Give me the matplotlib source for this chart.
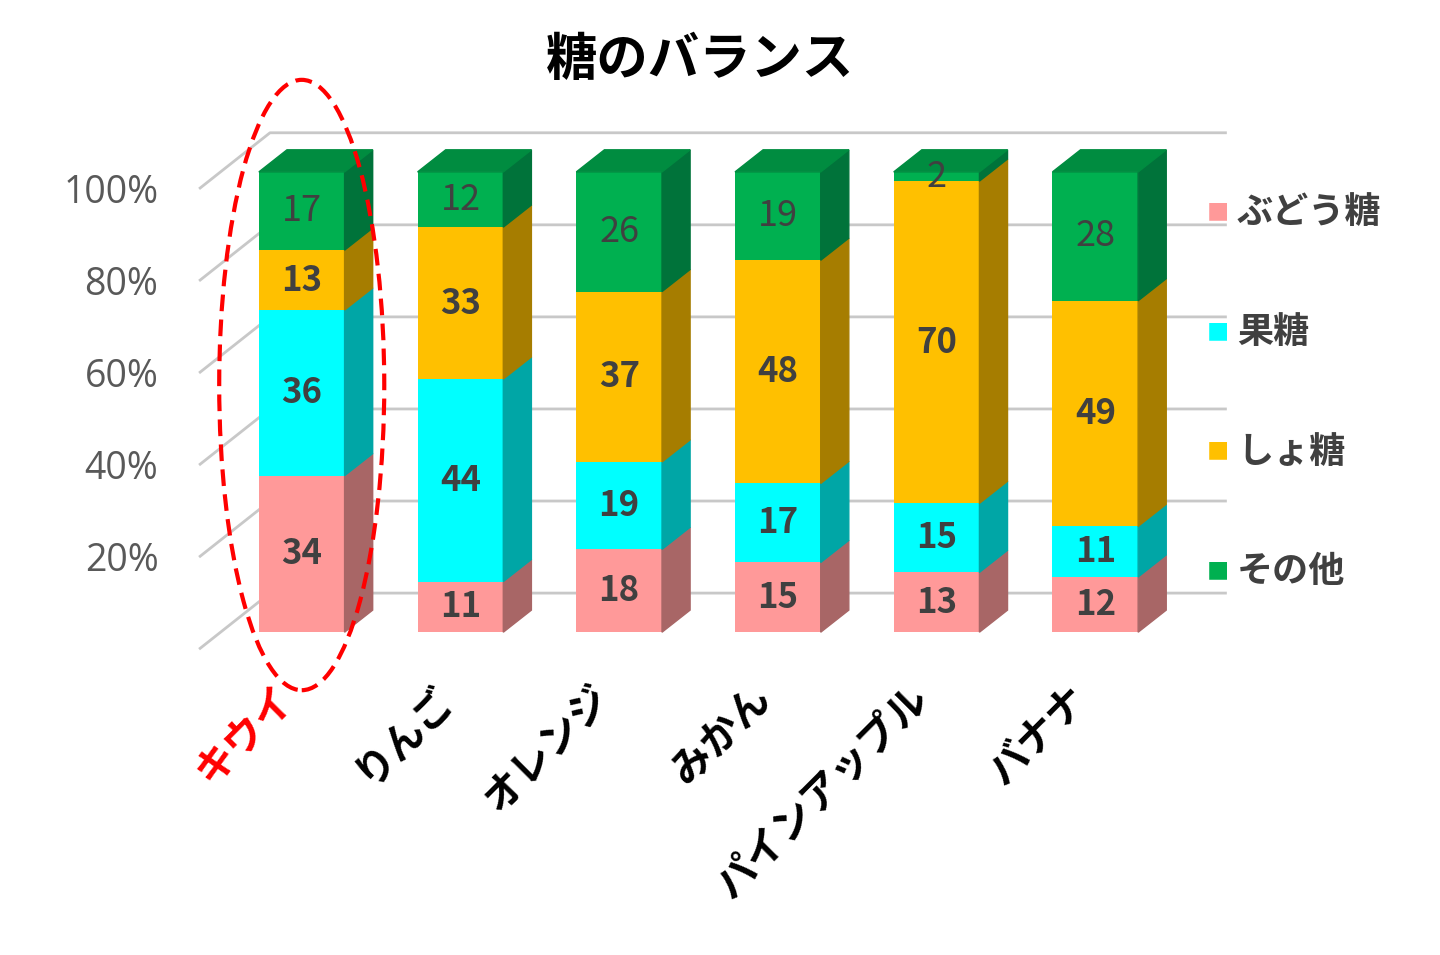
import matplotlib.pyplot as plt
from matplotlib.patches import Polygon, Ellipse

plt.rcParams['font.family'] = ['Noto Sans CJK JP', 'DejaVu Sans']

# data
fruits = ['キウイ', 'りんご', 'オレンジ', 'みかん', 'パインアップル', 'バナナ']
series = ['ぶどう糖', '果糖', 'しょ糖', 'その他']
budou = [34, 11, 18, 15, 13, 12]
katou = [36, 44, 19, 17, 15, 11]
shotou = [13, 33, 37, 48, 70, 49]
sonota = [17, 12, 26, 19, 2, 28]
yticks = [0, 20, 40, 60, 80, 100]

front = ['#FF9999', '#00FFFF', '#FFC000', '#00B050']
side = ['#A86666', '#00A6A6', '#A67D00', '#00733A']
top_green = '#008C40'

fig = plt.figure(figsize=(14.4, 9.55), dpi=100)
ax = fig.add_axes([0.139, 0.338, 0.712, 0.482])
for s in ax.spines.values():
    s.set_visible(False)

# back wall grid lines
fdx, fdy, off = 0.44, 12, -3.5
for v in yticks:
    ax.plot([-0.64, -0.64 + fdx, 5.82], [v + off, v + off + fdy, v + off + fdy],
            color='#C8C8C8', lw=2, clip_on=False, zorder=0)
ax.set_yticks([v + off for v in yticks])
ax.set_yticklabels([f'{v}%' for v in yticks], fontsize=27, color='#595959',
                   family=['Open Sans', 'DejaVu Sans'])
ax.tick_params(axis='y', length=0, pad=30)
ax.set_xticks([])

w, dx, dy = 0.54, 0.177, 4.8
data = [budou, katou, shotou, sonota]
for i in range(len(fruits)):
    vals = [d[i] for d in data]
    tot = sum(vals)
    bottom = 0
    for k, v in enumerate(vals):
        h = v * 100 / tot
        x0, x1 = i - w / 2, i + w / 2
        ax.bar(i, h, w, bottom=bottom, color=front[k], edgecolor='none', zorder=2)
        ax.add_patch(Polygon([(x1, bottom), (x1 + dx, bottom + dy), (x1 + dx, bottom + h + dy),
                              (x1, bottom + h)], closed=True, color=side[k], zorder=2, clip_on=False))
        if k == 3:
            ax.add_patch(Polygon([(x0, bottom + h), (x1, bottom + h), (x1 + dx, bottom + h + dy),
                                  (x0 + dx, bottom + h + dy)], closed=True, color=top_green,
                                 zorder=2, clip_on=False))
        green = k == 3
        ax.text(i, bottom + h / 2 if v > 3 else bottom + h - 1, str(v), ha='center',
                va='center',
                fontsize=26 if green else 25, fontweight='normal' if green else 'bold',
                color='#404040', zorder=3)
        bottom += h
    ax.text(i - 0.18, -10, fruits[i], ha='right', va='top', rotation=45, rotation_mode='anchor',
            fontsize=29, fontweight='bold', color='red' if i == 0 else 'black', clip_on=False)

ax.set_xlim(-0.64, 5.82)
ax.set_ylim(0, 100)

ax.add_patch(Ellipse((0.0, 53.7), 1.04, 132.6, fill=False, edgecolor='red', lw=3,
                     linestyle=(0, (4, 2)), clip_on=False, zorder=4))

fig.text(0.486, 0.938, '糖のバランス', ha='center', va='center', fontsize=37, fontweight='bold')

for n, (name, c) in enumerate(zip(series, front)):
    y = 1 - (213 + n * 119.5) / 955
    fig.text(0.846, y, '■', color=c, fontsize=16, ha='center', va='center')
    fig.text(0.859, y, name, fontsize=26, fontweight='bold', color='#404040', va='center')

fig.savefig('out.png')
